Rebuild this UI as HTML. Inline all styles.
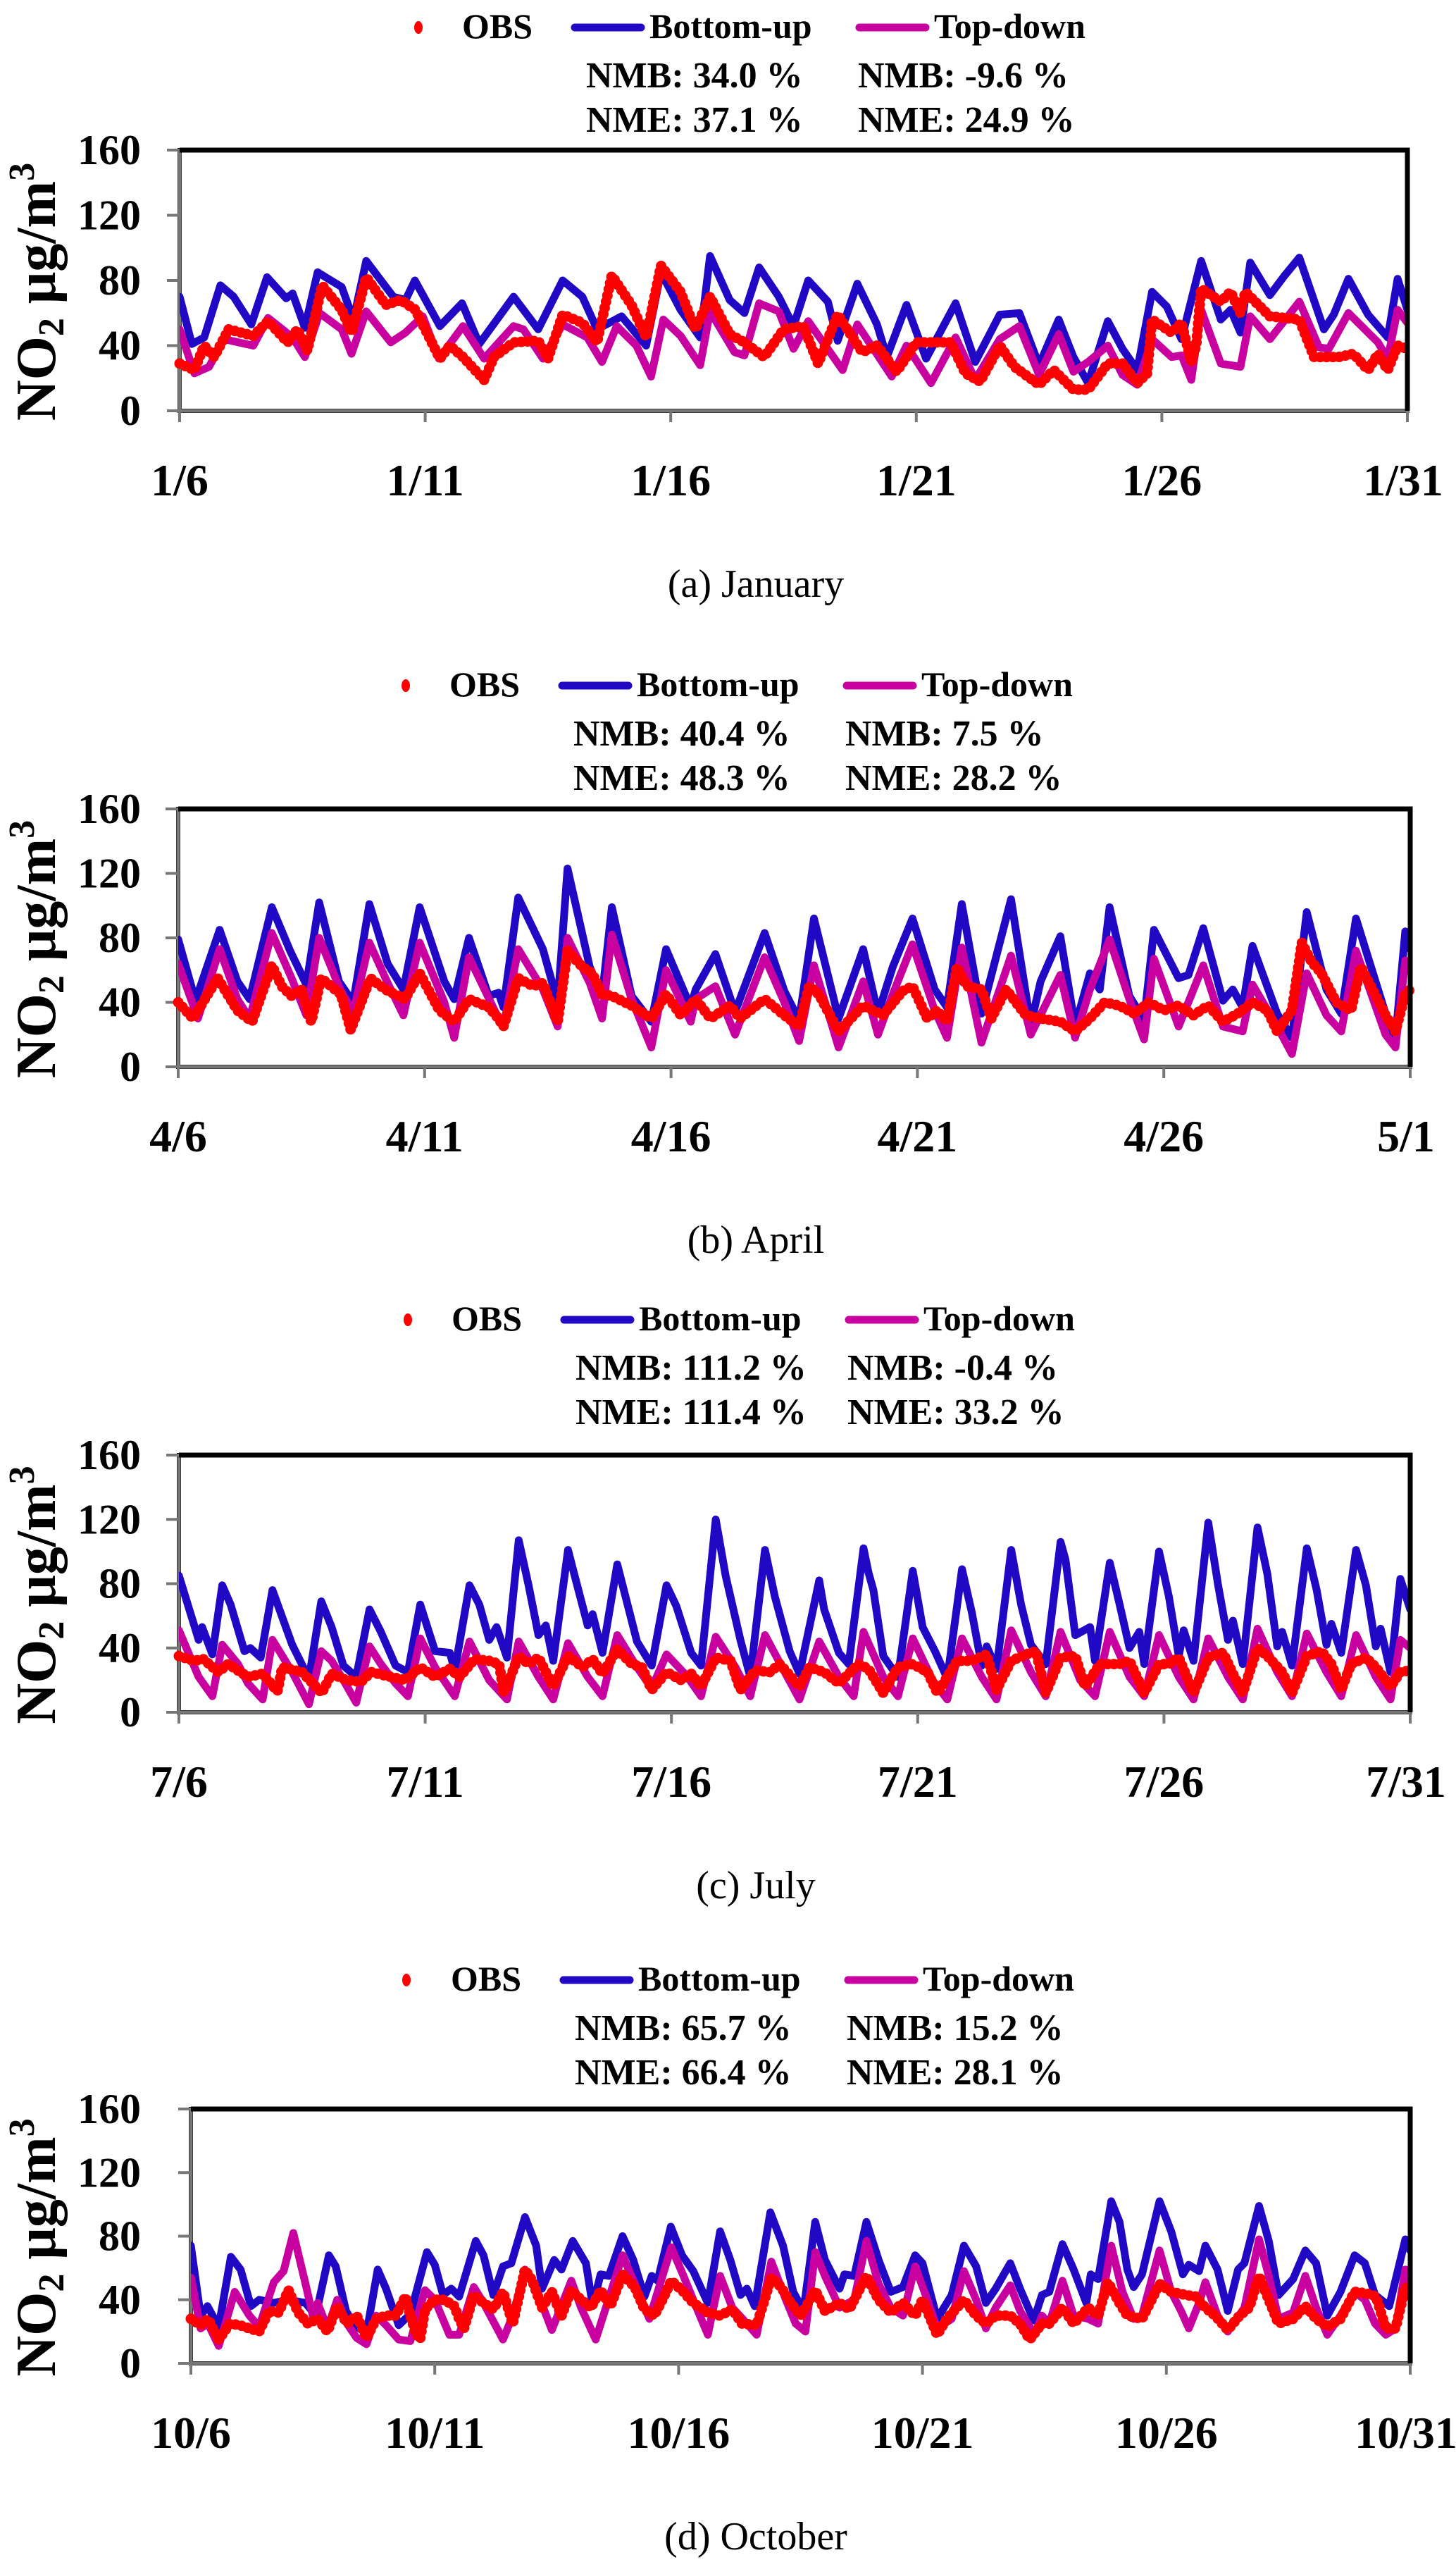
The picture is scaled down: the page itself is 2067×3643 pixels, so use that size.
<!DOCTYPE html>
<html><head><meta charset="utf-8"><title>NO2 time series</title>
<style>
html,body{margin:0;padding:0;background:#fff;}
svg{display:block;font-family:"Liberation Serif","Times New Roman",serif;}
text,tspan{font-family:"Liberation Serif","Times New Roman",serif;fill:#000;}
.b{font-weight:bold;}
</style></head>
<body>
<svg id="chart" xmlns="http://www.w3.org/2000/svg" width="2067" height="3643" viewBox="0 0 2067 3643" font-family="Liberation Serif, serif"></svg>
<script>
// ---------- data: [day offset, NO2 value] ----------
const yTicks=[0,40,80,120,160];
const monthLabels=["January","April","July","October"];
const captionLetters=["a","b","c","d"];
const xTickLabels=[
 ["1/6","1/11","1/16","1/21","1/26","1/31"],
 ["4/6","4/11","4/16","4/21","4/26","5/1"],
 ["7/6","7/11","7/16","7/21","7/26","7/31"],
 ["10/6","10/11","10/16","10/21","10/26","10/31"]
];
const xTickDays=[0,5,10,15,20,25];
const nmbBU=["34.0","40.4","111.2","65.7"];
const nmeBU=["37.1","48.3","111.4","66.4"];
const nmbTD=["-9.6","7.5","-0.4","15.2"];
const nmeTD=["24.9","28.2","33.2","28.1"];

const aBU=[[0,70],[0.25,41],[0.5,45],[0.83,77],[1.1,70],[1.46,53],[1.78,82],[2.17,69],[2.3,72],[2.55,51],[2.81,85],[3.3,76],[3.54,56],[3.8,92],[4.35,70],[4.6,68],[4.79,80],[5.3,52],[5.75,66],[6.1,41],[6.8,70],[7.3,50],[7.8,80],[8.2,70],[8.5,50],[9.0,58],[9.5,40],[9.8,85],[10.2,62],[10.6,45],[10.8,95],[11.2,68],[11.5,60],[11.8,88],[12.2,70],[12.5,52],[12.8,80],[13.2,67],[13.4,43],[13.8,78],[14.2,53],[14.4,33],[14.8,65],[15.2,32],[15.8,66],[16.2,30],[16.7,59],[17.1,60],[17.5,28],[17.9,56],[18.2,33],[18.5,17],[18.9,55],[19.2,38],[19.5,25],[19.8,73],[20.1,64],[20.4,44],[20.8,92],[21.2,56],[21.4,62],[21.6,48],[21.8,91],[22.2,71],[22.5,83],[22.8,94],[23.3,50],[23.5,59],[23.8,81],[24.2,59],[24.6,45],[24.8,81],[25,62]];
const aTD=[[0,50],[0.3,23],[0.6,27],[0.9,44],[1.5,40],[1.8,57],[2.3,45],[2.55,33],[2.85,60],[3.3,50],[3.5,35],[3.8,61],[4.3,42],[4.6,48],[4.95,58],[5.28,32],[5.77,52],[6.2,32],[6.8,52],[7.0,50],[7.4,32],[7.8,53],[8.3,45],[8.6,30],[8.9,52],[9.3,40],[9.6,21],[9.85,56],[10.2,46],[10.6,28],[10.8,61],[11.3,36],[11.5,34],[11.8,66],[12.2,61],[12.5,38],[12.8,55],[13.5,25],[13.8,53],[14.5,21],[14.8,40],[15.3,17],[15.8,45],[16.2,19],[16.7,44],[17.1,52],[17.5,22],[17.9,47],[18.2,24],[18.5,30],[18.9,40],[19.2,22],[19.5,16],[19.8,44],[20.2,33],[20.4,34],[20.6,19],[20.8,62],[21.2,29],[21.6,27],[21.8,58],[22.2,44],[22.8,67],[23.2,39],[23.4,38],[23.8,60],[24.4,42],[24.6,32],[24.8,62],[25,54]];
const aOBS=[[0,29],[0.3,25],[0.5,40],[0.7,33],[1.0,50],[1.5,46],[1.8,55],[2.2,42],[2.4,50],[2.6,37],[2.9,77],[3.3,62],[3.5,48],[3.8,82],[4.2,65],[4.5,68],[4.8,62],[5.3,32],[5.5,40],[5.77,33],[6.2,19],[6.4,33],[6.8,42],[7.3,43],[7.5,32],[7.8,59],[8.2,54],[8.5,42],[8.8,83],[9.2,65],[9.5,45],[9.8,89],[10.2,73],[10.5,50],[10.8,70],[11.2,47],[11.5,42],[11.9,33],[12.3,50],[12.7,52],[13.0,29],[13.4,59],[13.9,36],[14.2,40],[14.6,24],[15.0,42],[15.4,42],[15.7,42],[16.0,23],[16.3,18],[16.7,40],[17.0,27],[17.5,16],[17.8,25],[18.2,13],[18.5,13],[18.9,29],[19.2,29],[19.5,17],[19.7,23],[19.8,56],[20.2,48],[20.4,54],[20.6,30],[20.7,40],[20.8,75],[21.2,67],[21.4,73],[21.6,60],[21.7,73],[22.2,58],[22.8,56],[23.1,33],[23.6,33],[23.9,35],[24.2,25],[24.4,35],[24.6,25],[24.8,40],[25,38]];

const bBU=[[0,79],[0.35,41],[0.84,85],[1.2,53],[1.45,42],[1.9,99],[2.27,72],[2.6,51],[2.86,102],[3.26,53],[3.55,40],[3.88,101],[4.25,64],[4.57,48],[4.9,99],[5.4,53],[5.6,42],[5.9,80],[6.3,44],[6.5,46],[6.6,37],[6.9,105],[7.4,73],[7.7,40],[7.9,123],[8.35,62],[8.6,44],[8.8,99],[9.2,44],[9.6,28],[9.9,73],[10.4,37],[10.5,48],[10.9,70],[11.3,34],[11.9,83],[12.3,47],[12.6,29],[12.9,92],[13.4,30],[13.9,73],[14.2,33],[14.5,62],[14.9,92],[15.35,48],[15.6,37],[15.9,101],[16.3,33],[16.9,104],[17.3,26],[17.5,53],[17.9,81],[18.2,25],[18.5,58],[18.7,48],[18.9,99],[19.3,44],[19.6,29],[19.8,85],[20.3,55],[20.5,57],[20.8,86],[21.2,41],[21.4,48],[21.6,37],[21.8,75],[22.3,33],[22.6,18],[22.9,96],[23.3,48],[23.6,33],[23.9,92],[24.5,33],[24.7,18],[24.9,84],[25,73]];
const bTD=[[0,64],[0.4,30],[0.84,73],[1.2,42],[1.45,30],[1.9,83],[2.3,55],[2.6,32],[2.86,80],[3.3,47],[3.55,34],[3.88,77],[4.25,52],[4.57,32],[4.9,77],[5.4,40],[5.6,18],[5.9,68],[6.5,30],[6.6,25],[6.9,73],[7.4,48],[7.7,25],[7.9,80],[8.35,52],[8.6,30],[8.8,82],[9.2,42],[9.6,12],[9.9,60],[10.4,28],[10.5,42],[10.9,50],[11.3,20],[11.9,68],[12.3,40],[12.6,16],[12.9,63],[13.4,12],[13.9,53],[14.2,20],[14.5,45],[14.9,76],[15.35,35],[15.6,18],[15.9,74],[16.3,15],[16.9,69],[17.3,20],[17.9,57],[18.2,18],[18.5,48],[18.9,79],[19.3,42],[19.6,17],[19.8,67],[20.3,25],[20.8,63],[21.2,25],[21.6,22],[21.8,51],[22.3,25],[22.6,8],[22.9,58],[23.3,32],[23.6,22],[23.9,72],[24.5,20],[24.7,12],[24.9,66],[25,60]];
const bOBS=[[0,40],[0.3,30],[0.8,55],[1.2,35],[1.5,28],[1.9,63],[2.1,50],[2.3,44],[2.5,48],[2.7,28],[2.9,55],[3.3,45],[3.5,23],[3.9,55],[4.2,48],[4.6,42],[4.9,58],[5.3,35],[5.6,28],[5.9,42],[6.3,37],[6.5,30],[6.6,25],[6.9,55],[7.2,50],[7.4,52],[7.7,28],[7.9,72],[8.2,62],[8.4,58],[8.6,45],[8.8,44],[9.2,38],[9.6,30],[9.9,45],[10.2,32],[10.5,42],[10.8,30],[11.2,38],[11.4,30],[11.9,42],[12.3,32],[12.6,25],[12.8,50],[13.0,45],[13.4,22],[13.9,38],[14.3,32],[14.7,47],[14.9,50],[15.2,30],[15.4,35],[15.6,28],[15.8,62],[16.0,50],[16.3,48],[16.5,30],[16.8,48],[17.2,32],[17.5,30],[17.9,28],[18.2,22],[18.5,30],[18.8,40],[19.1,38],[19.4,33],[19.7,40],[20.0,35],[20.3,38],[20.6,32],[20.9,38],[21.2,28],[21.5,33],[21.8,40],[22.1,35],[22.3,22],[22.6,35],[22.8,77],[23.0,65],[23.2,58],[23.5,40],[23.8,35],[24.0,62],[24.2,50],[24.5,32],[24.7,22],[24.9,45],[25,48]];

const cBU=[[0,85],[0.4,45],[0.47,53],[0.68,36],[0.88,79],[1.05,67],[1.33,38],[1.45,40],[1.66,34],[1.9,76],[2.3,42],[2.64,21],[2.89,69],[3.1,53],[3.34,29],[3.6,22],[3.87,64],[4.1,50],[4.4,29],[4.65,25],[4.9,67],[5.2,38],[5.5,37],[5.6,26],[5.9,79],[6.1,67],[6.3,45],[6.45,53],[6.66,34],[6.9,107],[7.1,79],[7.3,48],[7.45,54],[7.6,32],[7.9,101],[8.0,89],[8.3,54],[8.4,61],[8.6,37],[8.9,92],[9.3,44],[9.6,29],[9.9,79],[10.1,66],[10.4,37],[10.6,29],[10.9,120],[11.1,85],[11.4,45],[11.6,22],[11.9,101],[12.1,72],[12.4,38],[12.6,24],[13.0,82],[13.1,64],[13.4,37],[13.6,30],[13.9,102],[14.0,87],[14.1,76],[14.3,35],[14.6,22],[14.9,88],[15.1,53],[15.35,38],[15.6,21],[15.9,89],[16.1,62],[16.3,29],[16.4,41],[16.6,27],[16.9,101],[17.1,67],[17.3,42],[17.6,30],[17.9,106],[18.0,95],[18.2,48],[18.5,53],[18.6,32],[18.9,93],[19.1,67],[19.3,40],[19.5,50],[19.6,30],[19.9,100],[20.1,72],[20.3,35],[20.4,51],[20.6,32],[20.9,118],[21.1,79],[21.3,45],[21.4,57],[21.6,30],[21.9,115],[22.1,86],[22.3,41],[22.4,50],[22.6,29],[22.9,102],[23.1,76],[23.3,42],[23.4,55],[23.6,37],[23.9,101],[24.1,79],[24.3,41],[24.4,52],[24.6,25],[24.8,83],[25,64]];
const cTD=[[0,51],[0.4,22],[0.68,10],[0.88,42],[1.2,30],[1.4,18],[1.7,8],[1.9,45],[2.3,25],[2.64,5],[2.89,38],[3.1,32],[3.34,20],[3.6,6],[3.87,41],[4.1,30],[4.4,18],[4.65,10],[4.9,46],[5.2,28],[5.6,10],[5.9,44],[6.3,20],[6.66,8],[6.9,44],[7.3,22],[7.6,8],[7.9,43],[8.3,22],[8.6,10],[8.9,48],[9.3,28],[9.6,15],[9.9,36],[10.3,23],[10.6,10],[10.9,47],[11.3,28],[11.6,10],[11.9,48],[12.3,25],[12.6,8],[13.0,44],[13.4,22],[13.7,10],[13.9,50],[14.3,22],[14.6,10],[14.9,46],[15.3,20],[15.6,8],[15.9,46],[16.3,22],[16.6,8],[16.9,51],[17.3,25],[17.6,10],[17.9,50],[18.3,20],[18.6,10],[18.9,50],[19.3,22],[19.6,10],[19.9,48],[20.3,22],[20.6,8],[20.9,46],[21.3,22],[21.6,8],[21.9,52],[22.3,25],[22.6,10],[22.9,49],[23.3,25],[23.6,10],[23.9,48],[24.3,22],[24.6,8],[24.8,45],[25,40]];
const cOBS=[[0,35],[0.3,32],[0.5,33],[0.8,25],[1.0,30],[1.4,22],[1.7,24],[2.0,13],[2.1,28],[2.5,25],[2.9,12],[3.1,24],[3.4,20],[3.7,19],[3.9,25],[4.3,22],[4.6,20],[4.9,28],[5.2,22],[5.5,27],[5.7,22],[6.0,33],[6.3,32],[6.5,30],[6.6,12],[6.9,35],[7.1,30],[7.3,34],[7.6,16],[7.9,35],[8.2,28],[8.4,33],[8.6,24],[8.9,39],[9.2,30],[9.4,28],[9.6,14],[9.9,25],[10.2,20],[10.4,24],[10.6,16],[10.9,34],[11.2,32],[11.4,14],[11.7,26],[12.0,25],[12.2,30],[12.6,16],[12.8,28],[13.1,25],[13.4,18],[13.8,30],[14.0,27],[14.3,12],[14.6,28],[14.9,30],[15.2,25],[15.4,12],[15.8,32],[16.1,32],[16.4,36],[16.6,14],[16.9,32],[17.2,36],[17.4,38],[17.6,12],[17.9,34],[18.2,35],[18.4,16],[18.7,30],[19.1,30],[19.3,32],[19.6,12],[19.9,30],[20.1,30],[20.3,34],[20.6,12],[20.9,34],[21.2,37],[21.4,24],[21.6,12],[21.9,40],[22.1,35],[22.4,25],[22.6,12],[22.9,35],[23.2,38],[23.4,30],[23.6,14],[23.8,30],[24.1,34],[24.3,28],[24.6,16],[24.8,25],[25,26]];

const dBU=[[0,74],[0.2,30],[0.34,36],[0.57,23],[0.82,67],[1.02,59],[1.23,36],[1.4,40],[1.7,38],[2.0,40],[2.35,38],[2.56,30],[2.83,68],[2.97,61],[3.18,33],[3.35,24],[3.6,19],[3.83,59],[4.0,47],[4.26,24],[4.5,31],[4.84,70],[5.0,62],[5.17,43],[5.34,47],[5.5,42],[5.84,77],[6.0,68],[6.2,43],[6.4,61],[6.57,63],[6.85,92],[7.08,74],[7.2,47],[7.45,65],[7.6,59],[7.83,77],[8.1,63],[8.24,36],[8.4,56],[8.57,55],[8.85,80],[9.07,65],[9.3,42],[9.45,55],[9.57,52],[9.84,86],[10.07,68],[10.3,58],[10.6,38],[10.85,83],[11.06,65],[11.27,43],[11.4,47],[11.56,36],[11.88,95],[12.14,74],[12.35,45],[12.56,33],[12.8,89],[13.0,65],[13.3,47],[13.4,56],[13.6,55],[13.85,89],[14.1,65],[14.35,45],[14.6,48],[14.85,68],[15.0,63],[15.3,28],[15.6,43],[15.85,74],[16.1,61],[16.3,38],[16.5,47],[16.8,63],[17.0,47],[17.28,27],[17.45,43],[17.6,45],[17.87,75],[18.1,59],[18.36,38],[18.45,56],[18.6,53],[18.87,102],[19.04,89],[19.2,59],[19.33,48],[19.5,56],[19.86,102],[20.1,83],[20.34,56],[20.46,62],[20.67,58],[20.8,74],[21.05,59],[21.26,33],[21.47,59],[21.6,63],[21.9,99],[22.1,77],[22.3,43],[22.6,53],[22.85,71],[23.07,63],[23.3,30],[23.57,45],[23.86,68],[24.07,63],[24.28,43],[24.57,36],[24.9,78],[25,71]];
const dTD=[[0,54],[0.2,22],[0.35,25],[0.57,11],[0.9,45],[1.2,30],[1.4,23],[1.7,51],[1.9,58],[2.1,82],[2.35,50],[2.5,30],[2.6,38],[2.8,22],[3.0,40],[3.2,25],[3.4,16],[3.6,12],[3.8,30],[4.0,24],[4.26,15],[4.5,14],[4.8,46],[5.0,40],[5.3,18],[5.5,18],[5.8,48],[6.0,38],[6.4,15],[6.6,30],[6.85,59],[7.1,45],[7.4,21],[7.8,52],[8.0,35],[8.3,15],[8.85,68],[9.1,50],[9.4,28],[9.85,73],[10.1,55],[10.3,40],[10.6,18],[10.85,55],[11.1,35],[11.4,25],[11.6,18],[11.9,64],[12.2,40],[12.4,25],[12.6,20],[12.8,70],[13.0,55],[13.3,35],[13.6,40],[13.85,77],[14.1,50],[14.35,35],[14.6,30],[14.85,61],[15.1,40],[15.3,22],[15.6,28],[15.85,58],[16.1,40],[16.3,22],[16.5,35],[16.8,49],[17.0,33],[17.3,18],[17.45,30],[17.6,25],[17.87,52],[18.1,30],[18.4,28],[18.6,25],[18.87,74],[19.1,45],[19.33,28],[19.5,30],[19.86,71],[20.1,45],[20.3,33],[20.46,22],[20.67,38],[20.8,51],[21.05,30],[21.26,20],[21.6,35],[21.9,78],[22.1,55],[22.3,28],[22.6,32],[22.85,55],[23.07,35],[23.3,18],[23.57,30],[23.86,45],[24.07,40],[24.28,25],[24.5,18],[24.7,22],[24.9,59],[25,50]];
const dOBS=[[0,28],[0.2,24],[0.35,28],[0.57,15],[0.8,25],[1.0,24],[1.2,22],[1.4,20],[1.6,33],[1.8,32],[2.0,46],[2.2,32],[2.4,25],[2.6,28],[2.8,20],[3.0,36],[3.2,25],[3.4,30],[3.6,16],[3.8,28],[4.0,30],[4.2,30],[4.4,42],[4.5,30],[4.6,20],[4.7,15],[4.8,34],[5.0,40],[5.2,40],[5.4,36],[5.5,28],[5.6,22],[5.8,43],[6.0,38],[6.2,34],[6.4,45],[6.6,25],[6.85,59],[7.0,52],[7.2,35],[7.4,45],[7.6,30],[7.8,46],[8.0,40],[8.2,35],[8.4,46],[8.6,36],[8.85,56],[9.1,48],[9.3,34],[9.5,30],[9.7,42],[9.85,52],[10.1,45],[10.3,38],[10.6,32],[10.85,30],[11.1,34],[11.3,25],[11.6,24],[11.9,54],[12.1,48],[12.3,38],[12.5,30],[12.6,35],[12.8,46],[13.0,33],[13.3,38],[13.5,34],[13.85,55],[14.1,40],[14.35,32],[14.6,38],[14.85,30],[15.0,40],[15.3,18],[15.5,28],[15.85,40],[16.1,30],[16.3,25],[16.5,30],[16.8,30],[17.0,25],[17.2,15],[17.45,25],[17.6,25],[17.87,35],[18.1,25],[18.4,35],[18.6,30],[18.8,51],[19.04,38],[19.2,30],[19.5,28],[19.86,50],[20.1,45],[20.4,43],[20.6,42],[20.8,35],[21.0,30],[21.26,21],[21.5,30],[21.7,35],[21.9,55],[22.1,40],[22.3,25],[22.6,28],[22.85,36],[23.07,28],[23.3,23],[23.57,28],[23.86,45],[24.1,44],[24.3,42],[24.5,22],[24.7,22],[24.9,48],[25,45]];

const seriesBU=[aBU,bBU,cBU,dBU];
const seriesTD=[aTD,bTD,cTD,dTD];
const seriesOBS=[aOBS,bOBS,cOBS,dOBS];

// ---------- layout (pixels) ----------
const layout=[
 {x0:255,x1:1998,top:213,bot:583,leg:54,dot:594,shift:0},
 {x0:253,x1:2002,top:1148,bot:1514,leg:988,dot:576,shift:-18},
 {x0:254,x1:2002,top:2065,bot:2430,leg:1888,dot:579,shift:-15},
 {x0:271,x1:2002,top:2993,bot:3354,leg:2825,dot:577,shift:-16}
];
const YMAX=160, DAYS=25;
const BLUE="#2008C4", MAG="#C800A0", RED="#FF0000";
const FONT="Liberation Serif, Times New Roman, serif";
const NS="http://www.w3.org/2000/svg";
const svg=document.getElementById('chart');

function mk(tag,attrs,parent){const e=document.createElementNS(NS,tag);for(const k in attrs)e.setAttribute(k,attrs[k]);(parent||svg).appendChild(e);return e;}
function txt(s,attrs,parent){attrs['font-family']=FONT;const e=mk('text',attrs,parent);e.textContent=s;return e;}

layout.forEach((L,i)=>{
  const g=mk('g',{});
  
  
  const xs=d=>L.x0+(L.x1-L.x0)*d/DAYS;
  const ys=v=>L.bot-(L.bot-L.top)*v/YMAX;

  // legend
  const lg=mk('g',{},g);
  
  
  const s=L.shift;
  const ld=mk('ellipse',{cx:L.dot,cy:L.leg-15,rx:6,ry:9,fill:RED},lg);
  
  
  const t1=txt('OBS',{x:656+s,y:L.leg,'font-size':50,'font-weight':'bold'},lg);
  
  
  const l1=mk('line',{x1:816+s,x2:910+s,y1:L.leg-15,y2:L.leg-15,stroke:BLUE,'stroke-width':11,'stroke-linecap':'round'},lg);
  
  
  const t2=txt('Bottom-up',{x:922+s,y:L.leg,'font-size':50,'font-weight':'bold'},lg);
  
  
  const l2=mk('line',{x1:1220+s,x2:1314+s,y1:L.leg-15,y2:L.leg-15,stroke:MAG,'stroke-width':11,'stroke-linecap':'round'},lg);
  
  
  const t3=txt('Top-down',{x:1326+s,y:L.leg,'font-size':50,'font-weight':'bold'},lg);
  
  

  // stats
  const st=[['NMB: '+nmbBU[i]+' %',832+s,L.leg+70],['NME: '+nmeBU[i]+' %',832+s,L.leg+133],['NMB: '+nmbTD[i]+' %',1218+s,L.leg+70],['NME: '+nmeTD[i]+' %',1218+s,L.leg+133]];
  st.forEach((q,k)=>{
    const e=txt(q[0],{x:q[1],y:q[2],'font-size':52,'font-weight':'bold'},g);
    
    
  });

  // plot area frame
  const fr=mk('rect',{x:L.x0,y:L.top,width:L.x1-L.x0,height:L.bot-L.top,fill:'#fff',stroke:'#000','stroke-width':6},g);
  
  
  const ya=mk('line',{x1:L.x0,x2:L.x0,y1:L.top-2,y2:L.bot,stroke:'#777','stroke-width':5},g);
  
  
  const xa=mk('line',{x1:L.x0,x2:L.x1+3,y1:L.bot,y2:L.bot,stroke:'#777','stroke-width':5},g);
  
  

  yTicks.forEach(v=>{
    const tk=mk('line',{x1:L.x0-18,x2:L.x0,y1:ys(v),y2:ys(v),stroke:'#777','stroke-width':4},g);
    
    
    const tl=txt(String(v),{x:200,y:ys(v)+20,'font-size':60,'font-weight':'bold','text-anchor':'end'},g);
    
    
  });
  xTickDays.forEach((d,k)=>{
    const tk=mk('line',{x1:xs(d),x2:xs(d),y1:L.bot,y2:L.bot+16,stroke:'#777','stroke-width':4},g);
    
    
    let ax=xs(d); if(k===xTickDays.length-1) ax-=6;
    const tl=txt(xTickLabels[i][k],{x:ax,y:L.bot+120,'font-size':64,'font-weight':'bold','text-anchor':'middle'},g);
    
    
  });

  // y-axis title
  const cy=(L.top+L.bot)/2+16;
  const yt=mk('text',{x:0,y:0,'font-size':80,'font-weight':'bold','font-family':FONT,'text-anchor':'middle',transform:'translate(78,'+cy+') rotate(-90)'},g);
  
  
  yt.appendChild(document.createTextNode('NO'));
  const sub=mk('tspan',{'font-size':52,dy:12},yt); sub.textContent='2';
  const rest=mk('tspan',{dy:-12},yt); rest.textContent=' μg/m';
  const sup=mk('tspan',{'font-size':52,dy:-30},yt); sup.textContent='3';

  // series
  const path=arr=>arr.map((p,k)=>(k?'L':'M')+xs(p[0]).toFixed(1)+' '+ys(p[1]).toFixed(1)).join(' ');
  const clip=mk('clipPath',{id:'clip'+i},g);
  mk('rect',{x:L.x0,y:L.top,width:L.x1-L.x0,height:L.bot-L.top},clip);
  const pb=mk('path',{d:path(seriesBU[i]),fill:'none',stroke:BLUE,'stroke-width':11,'stroke-linejoin':'round','stroke-linecap':'round','clip-path':'url(#clip'+i+')'},g);
  
  
  const pt=mk('path',{d:path(seriesTD[i]),fill:'none',stroke:MAG,'stroke-width':11,'stroke-linejoin':'round','stroke-linecap':'round','clip-path':'url(#clip'+i+')'},g);
  
  
  const po=mk('path',{d:path(seriesOBS[i]),fill:'none',stroke:RED,'stroke-width':15,'stroke-dasharray':'0 9','stroke-linejoin':'round','stroke-linecap':'round'},g);
  
  
  const fr2=mk('path',{d:'M'+L.x0+' '+L.top+' H'+L.x1+' V'+L.bot,fill:'none',stroke:'#000','stroke-width':7},g);
  
  

  // caption
  const cap=txt('('+captionLetters[i]+') '+monthLabels[i],{x:1073,y:L.bot+264,'font-size':56,'text-anchor':'middle'},g);
  
  
});
</script>
</body></html>
